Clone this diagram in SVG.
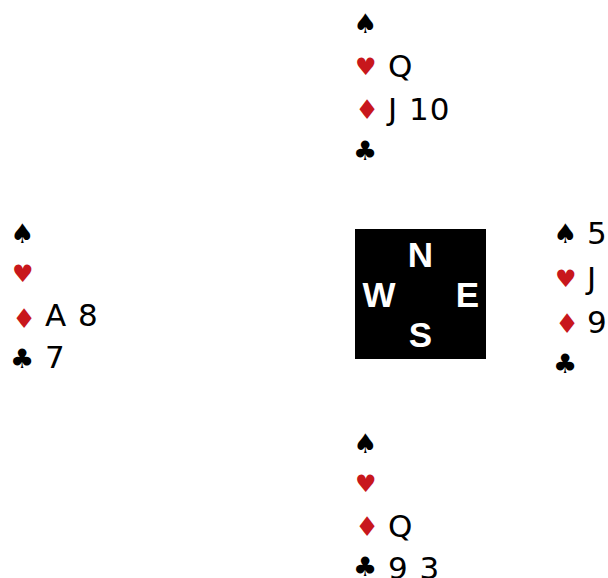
<svg xmlns="http://www.w3.org/2000/svg" width="608" height="578" viewBox="0 0 608 578">
<style>
.suit{font-family:"DejaVu Sans",sans-serif;font-size:27px}
.h{font-size:24px}
.d{font-size:27px}
.blk{fill:#000}
.red{fill:#c8171c}
.t{font-family:"DejaVu Sans",sans-serif;font-size:31px;letter-spacing:1px;fill:#000}
.c{font-family:"Liberation Sans",Arial,sans-serif;font-weight:bold;font-size:35px;fill:#fff;text-anchor:middle}
</style>
<rect width="608" height="578" fill="#fff"/>
<g id="north">
<text class="suit blk" x="353" y="33">♠</text>
<text class="suit h red" x="355" y="75">♥</text>
<text class="t" x="388" y="77">Q</text>
<text class="suit d red" x="355" y="119">♦</text>
<text class="t" x="388" y="120">J 10</text>
<text class="suit blk" x="353" y="160">♣</text>
</g>
<g id="west">
<text class="suit blk" x="10" y="243">♠</text>
<text class="suit h red" x="12" y="282">♥</text>
<text class="suit d red" x="12" y="328">♦</text>
<text class="t" x="45" y="326">A 8</text>
<text class="suit blk" x="10" y="368">♣</text>
<text class="t" x="45" y="368">7</text>
</g>
<g id="compass">
<rect x="355" y="229" width="131" height="130" fill="#000"/>
<text class="c" x="420.5" y="267">N</text>
<text class="c" x="379" y="307">W</text>
<text class="c" x="467.5" y="307">E</text>
<text class="c" x="420.5" y="347">S</text>
</g>
<g id="east">
<text class="suit blk" x="553" y="243">♠</text>
<text class="t" x="587" y="244">5</text>
<text class="suit h red" x="555" y="287">♥</text>
<text class="t" x="587" y="289">J</text>
<text class="suit d red" x="555" y="333">♦</text>
<text class="t" x="587" y="333">9</text>
<text class="suit blk" x="553" y="373">♣</text>
</g>
<g id="south">
<text class="suit blk" x="353" y="453">♠</text>
<text class="suit h red" x="355" y="492">♥</text>
<text class="suit d red" x="355" y="536">♦</text>
<text class="t" x="388" y="537">Q</text>
<text class="suit blk" x="353" y="576">♣</text>
<text class="t" x="388" y="579">9 3</text>
</g>
</svg>
